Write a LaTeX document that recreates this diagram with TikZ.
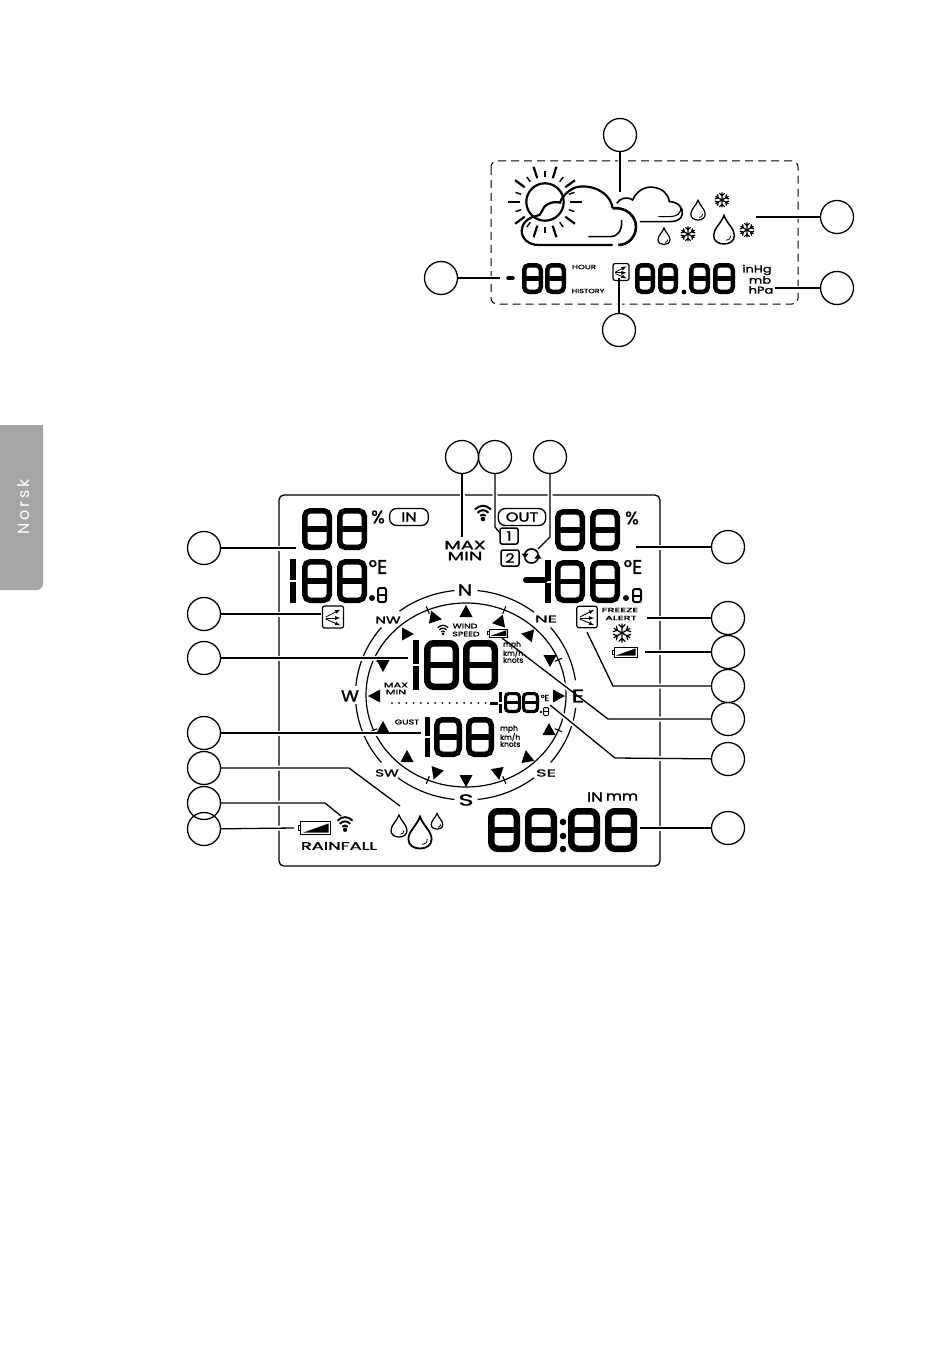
\documentclass[tikz,border=0pt]{standalone}
\usepackage{fontspec}
\newfontfamily\lcdfont[FakeBold=1.4]{Poppins}
\newfontfamily\tabfont{Poppins}
\usetikzlibrary{calc}
\def\lcdeight[#1](#2,#3)(#4,#5){\draw[line width=#1pt,rounded corners=#1pt] ({#2+#1/2},{#3+#1/2}) rectangle ({#4-#1/2},{#5-#1/2});
	\draw[line width=#1pt] (#2,{(#3+#5)/2}) -- (#4,{(#3+#5)/2});}
\def\lcdone[#1](#2,#3)(#4){\draw[line width=#1pt] (#2,#3) -- (#2,{(#3+#4)/2-1}) (#2,{(#3+#4)/2+1}) -- (#2,#4);}
\def\windmark(#1,#2)(#3){\fill[shift={(#1,#2)},rotate=#3] (7,0) -- (-5,6.5) -- (-5,-6.5) -- cycle;}
\def\raindrop[#1](#2,#3)(#4){\begin{scope}[shift={(#2,#3)},scale=#4]
	\draw[line width=#1pt] (0,-12) .. controls (2,-6) and (8,-2) .. (8,3.5) .. controls (8,8) and (4,10) .. (0,10) .. controls (-4,10) and (-8,8) .. (-8,3.5) .. controls (-8,-2) and (-2,-6) .. (0,-12) -- cycle;
	\draw[line width=0.8pt] (5,3.5) .. controls (5,6) and (3.5,7) .. (1.5,7.2);
	\end{scope}}
\def\flake(#1,#2)(#3){\foreach \a in {30,90,...,330}{\draw[shift={(#1,#2)},rotate=\a,line width=1.2pt] (0,0) -- (#3,0) ({.55*#3},0) -- ({.9*#3},{.35*#3}) ({.55*#3},0) -- ({.9*#3},{-.35*#3});}}
\def\wifisign(#1,#2)(#3){\begin{scope}[shift={(#1,#2)},scale=#3,line width=#3*2pt]
	\draw (-8,-3.5) .. controls (-3,-8.5) and (3,-8.5) .. (8,-3.5);
	\draw (-5.5,-0.2) .. controls (-2,-3.7) and (2,-3.7) .. (5.5,-0.2);
	\draw (-2.8,2.8) .. controls (-1,1.2) and (1,1.2) .. (2.8,2.8);
	\fill (0,6) circle (2.3);
	\end{scope}}
\def\battery(#1,#2)(#3){\begin{scope}[shift={(#1,#2)},scale=#3]
	\draw[line width=1pt] (-11,-5) rectangle (12,5);
	\draw[line width=1pt] (-13,-2) rectangle (-11,2);
	\fill (-9,3.5) -- (10.5,3.5) -- (10.5,-3.5) -- cycle;
	\end{scope}}
\def\trendbox[#1](#2,#3){\begin{scope}[shift={(#2,#3)},scale=#1]
	\draw[line width=1.2pt,rounded corners=2pt] (-10,-10.5) rectangle (10,10.5);
	\draw[line width=0.8pt,-latex] (-7,0) -- (7,-7);
	\draw[line width=0.8pt,-latex] (-7,1) -- (7,1);
	\draw[line width=0.8pt,-latex] (-7,2) -- (7,8);
	\end{scope}}

\tikzset{
	callout/.style={circle,draw,line width=1.3pt,minimum size=33pt,inner sep=0pt,outer sep=0pt},
	leader/.style={line width=1.3pt,preaction={draw=white,line width=5pt,shorten <=2pt}},
	lcdtxt/.style n args={2}{inner sep=0pt,font=\lcdfont\fontsize{#1}{#1}\selectfont,xscale=#2},
	pill/.style={draw,line width=1.3pt,rounded corners=7pt,inner sep=0pt}
}

\begin{document}
\begin{tikzpicture}[x=1pt,y=-1pt]
	\useasboundingbox (0,0) rectangle (950,1348);
	
	%%%%% SIDE TAB %%%%%
	\fill[black!35] (0,590) -- (0,425) -- (43,425) [rounded corners=6pt] -- (43,590) [sharp corners] -- (0,590) -- cycle;
	\node[inner sep=0pt,rotate=90,text=white,font=\tabfont\fontsize{16}{16}\selectfont] (tabname) at (24,507) {N\,o\,r\,s\,k};
	
	%%%%% PANELS %%%%%
	\draw[line width=1pt,dash pattern=on 8pt off 5pt,rounded corners=6pt] (491,161) rectangle (798,304);
	\draw[line width=1.3pt,rounded corners=5pt] (279,495) rectangle (660,866);
	
	%%%%% COMPASS RINGS %%%%%
	\draw[line width=1.2pt] (466,695) ellipse [x radius=100,y radius=92];
	\foreach \p/\q in {96/127,140/175,185/220,232/264,276/308,320/353,8/40,52/84}{
		\draw[line width=1.2pt] plot[domain=\p:\q,samples=24] ({466+110.5*cos(\x)},{695-105*sin(\x)});
	}
	\foreach \a in {22.5,67.5,...,337.5}{
		\draw[line width=1.1pt] ({466+96*cos(\a)},{695-88*sin(\a)}) -- ({466+104*cos(\a)},{695-96*sin(\a)});
	}
	
	%%%%% CIRCLES %%%%%
	\foreach \name/\px/\py in {ctop/620/135,cwet/837/217,cpress/837/288,chour/441/278,ctrend/619/330,
		chumin/204/548,ctrin/204/614,cwind/204/658,cgust/204/733,crain/204/768,csig/204/803,cbatl/204/829,
		cmax/462/457,cone/495/457,cswap/550/457,
		chumout/728/547,cfreeze/728/618,cbatr/728/652,ctrout/728/686,cbatw/728/719,ctmp/728/759,cclock/728/828}{
		\node[callout] (\name) at (\px,\py) {};
	}
	
	%%%%% LEADERS %%%%%
	\coordinate (ectop) at (620,192);
	\coordinate (ecwet) at (756,217);
	\coordinate (ecpress) at (775,288);
	\coordinate (echour) at (500,278);
	\coordinate (ectrend) at (619,278);
	\coordinate (echumin) at (296,548);
	\coordinate (ectrin) at (321,614);
	\coordinate (ecwind) at (408,658);
	\coordinate (ecgust) at (421,733);
	\coordinate (bcrain) at (349,768);
	\coordinate (ecrain) at (400,806);
	\coordinate (bcsig) at (325,803);
	\coordinate (ecsig) at (341,816);
	\coordinate (ecbatl) at (294,828);
	\coordinate (ecmax) at (462,537);
	\coordinate (bcone) at (495,527);
	\coordinate (econe) at (500,533);
	\coordinate (bcswap) at (550,537);
	\coordinate (ecswap) at (538,549);
	\coordinate (echumout) at (636,547);
	\coordinate (ecfreeze) at (647,618);
	\coordinate (ecbatr) at (645,652);
	\coordinate (bctrout) at (613,686);
	\coordinate (ectrout) at (587,632);
	\coordinate (bcbatw) at (608,719);
	\coordinate (ecbatw) at (502,638);
	\coordinate (bctmp) at (615,758);
	\coordinate (ectmp) at (550,705);
	\coordinate (ecclock) at (640,828);
	
	\draw[leader] (ctop) -- (ectop);
	\draw[leader] (cwet) -- (ecwet);
	\draw[leader] (cpress) -- (ecpress);
	\draw[leader] (chour) -- (echour);
	\draw[leader] (ctrend) -- (ectrend);
	\draw[leader] (chumin) -- (echumin);
	\draw[leader] (ctrin) -- (ectrin);
	\draw[leader] (cwind) -- (ecwind);
	\draw[leader] (cgust) -- (ecgust);
	\draw[leader] (crain) -- (bcrain) -- (ecrain);
	\draw[leader] (csig) -- (bcsig) -- (ecsig);
	\draw[leader] (cbatl) -- (ecbatl);
	\draw[leader] (cmax) -- (ecmax);
	\draw[leader] (cone) -- (bcone) -- (econe);
	\draw[leader] (cswap) -- (bcswap) -- (ecswap);
	\draw[leader] (chumout) -- (echumout);
	\draw[leader] (cfreeze) -- (ecfreeze);
	\draw[leader] (cbatr) -- (ecbatr);
	\draw[leader] (ctrout) -- (bctrout) -- (ectrout);
	\draw[leader] (cbatw) -- (bcbatw) -- (ecbatw);
	\draw[leader] (ctmp) -- (bctmp) -- (ectmp);
	\draw[leader] (cclock) -- (ecclock);
	
	%%%%% WEATHER ICONS %%%%%
	\draw[line width=2.2pt] (545,202) circle (18.7);
	\foreach \a in {0,36,...,324}{
		\draw[line width=2.2pt] ({545+25*cos(\a)},{202-25*sin(\a)}) -- ({545+37*cos(\a)},{202-37*sin(\a)});
	}
	\foreach \a in {18,54,...,342}{
		\draw[line width=1.4pt] ({545+25*cos(\a)},{202-25*sin(\a)}) -- ({545+31*cos(\a)},{202-31*sin(\a)});
	}
	\begin{scope}[shift={(420,110)},x=0.3333pt,y=-0.3333pt]
		\draw[line width=2.2pt] (578,405) -- (355,405) .. controls (325,405) and (305,385) .. (305,362) .. controls (305,340) and (325,322) .. (350,318) .. controls (358,318) and (362,312) .. (365,305) .. controls (370,285) and (395,272) .. (420,278) .. controls (425,262) and (440,245) .. (460,235) .. controls (500,218) and (570,240) .. (578,295);
		\draw[line width=2.6pt] (578,295) .. controls (620,290) and (648,320) .. (648,350) .. controls (648,380) and (625,405) .. (595,405);
		\draw[line width=1.6pt] (505,380) -- (570,380) .. controls (595,380) and (607,360) .. (605,330);
		\draw[line width=1.6pt] (590,280) .. controls (600,265) and (620,258) .. (638,270) .. controls (650,240) and (680,228) .. (700,232) .. controls (725,235) and (745,250) .. (748,275) .. controls (775,275) and (790,295) .. (787,312) .. controls (785,328) and (770,335) .. (750,335) -- (660,335);
		\draw[line width=1.1pt] (715,320) -- (750,320) .. controls (770,320) and (785,310) .. (783,290);
	\end{scope}
	\raindrop[1.2](698,211)(0.9)
	\raindrop[1.2](664,237)(0.75)
	\raindrop[1.5](724,231)(1.3)
	\flake(722,200)(7.5)
	\flake(688,234)(7.5)
	\flake(747,230)(7.5)
	
	%%%%% TOP READOUT %%%%%
	\draw[line width=3.5pt,line cap=round] (508,278) -- (513,278);
	\lcdeight[4.5](522,263)(543,294)
	\lcdeight[4.5](545,263)(566,294)
	\lcdeight[4.5](635,263)(655,294)
	\lcdeight[4.5](658,263)(678,294)
	\fill (684,292) circle (2.4);
	\lcdeight[4.5](689,263)(710,294)
	\lcdeight[4.5](713,263)(735,294)
	\trendbox[0.8](621,272)
	\node[lcdtxt={6}{1.45}] (lhour) at (584,267) {HOUR};
	\node[lcdtxt={6}{1.35}] (lhistory) at (588,291) {HISTORY};
	\node[lcdtxt={10}{1.3}] (linhg) at (757,270) {inHg};
	\node[lcdtxt={10}{1.3}] (lmb) at (760,280) {mb};
	\node[lcdtxt={10}{1.3}] (lhpa) at (761,290) {hPa};
	
	%%%%% INDOOR / OUTDOOR %%%%%
	\lcdeight[5.5](302,508)(332,550)
	\lcdeight[5.5](337,508)(367,550)
	\lcdone[6](293,559)(603)
	\lcdeight[5.5](302,559)(332,603)
	\lcdeight[5.5](337,559)(367,603)
	\fill (372,598) circle (3);
	\lcdeight[2](377,587)(387,603)
	\node[lcdtxt={18}{1}] (lhumin) at (378,517) {\%};
	\node[lcdtxt={20}{1}] (ltempin) at (378,567) {°E};
	\node[pill,minimum width=31pt,minimum height=17pt,lcdtxt={13}{1.25}] (pillin) at (409,517) {IN};
	\trendbox[1.05](333,617)
	
	\lcdeight[5.5](555,509)(585,551)
	\lcdeight[5.5](590,509)(620,551)
	\draw[line width=6pt,line cap=round] (526,580) -- (545,580);
	\lcdone[6](548,560)(603)
	\lcdeight[5.5](555,560)(585,603)
	\lcdeight[5.5](590,560)(620,603)
	\fill (626,598) circle (3);
	\lcdeight[2](632,588)(642,603)
	\node[lcdtxt={18}{1}] (lhumout) at (632,518) {\%};
	\node[lcdtxt={20}{1}] (ltempout) at (633,567) {°E};
	\node[pill,minimum width=38pt,minimum height=17pt,lcdtxt={13}{1.25}] (pillout) at (522,517) {OUT};
	\wifisign(483,513)(1)
	\node[lcdtxt={12}{1.6}] (lmax) at (465,545) {MAX};
	\node[lcdtxt={12}{1.6}] (lmin) at (465,556) {MIN};
	\node[draw,line width=1.5pt,rounded corners=2pt,minimum width=15pt,minimum height=16pt,lcdtxt={13}{1.2}] (chone) at (509,536) {1};
	\node[draw,line width=1.5pt,rounded corners=2pt,minimum width=15pt,minimum height=16pt,lcdtxt={13}{1.2}] (chtwo) at (510,558) {2};
	\draw[line width=1.6pt] plot[domain=20:165,samples=16] ({531.5+7*cos(\x)},{556-7*sin(\x)});
	\draw[line width=1.6pt] plot[domain=200:345,samples=16] ({531.5+7*cos(\x)},{556-7*sin(\x)});
	\fill (521.5,553.5) -- (528.5,553.5) -- (525,558.5) -- cycle;
	\fill (534.5,558.5) -- (541.5,558.5) -- (538,553.5) -- cycle;
	\trendbox[1.02](587,617)
	\node[lcdtxt={6}{1.9}] (lfreeze) at (620,610) {FREEZE};
	\node[lcdtxt={6}{1.9}] (lalert) at (621,618) {ALERT};
	\flake(622,633)(9.5)
	\battery(625,652)(1)
	
	%%%%% COMPASS %%%%%
	\node[lcdtxt={16}{1.3}] (dirn) at (465,590) {N};
	\node[lcdtxt={10}{1.8}] (dirne) at (546,619) {NE};
	\node[lcdtxt={18}{1.4}] (dire) at (578,696) {E};
	\node[lcdtxt={10}{1.8}] (dirse) at (546,773) {SE};
	\node[lcdtxt={16}{1.6}] (dirs) at (466,800) {S};
	\node[lcdtxt={10}{1.5}] (dirsw) at (387,773) {SW};
	\node[lcdtxt={16}{1.15}] (dirw) at (350,696) {W};
	\node[lcdtxt={10}{1.5}] (dirnw) at (388,620) {NW};
	\windmark(466,612)(90)
	\windmark(499,622)(190)
	\windmark(528,635)(170)
	\windmark(550,660)(270)
	\windmark(558,696)(0)
	\windmark(549,730)(90)
	\windmark(527,757)(100)
	\windmark(498,773)(280)
	\windmark(466,780)(270)
	\windmark(436,773)(250)
	\windmark(407,757)(90)
	\windmark(383,728)(90)
	\windmark(375,696)(180)
	\windmark(383,665)(270)
	\windmark(407,634)(0)
	\windmark(435,618)(350)
	
	\wifisign(443,630)(0.65)
	\node[lcdtxt={6.5}{1.45}] (lwind) at (465,626) {WIND};
	\node[lcdtxt={6.5}{1.45}] (lspeed) at (466,634) {SPEED};
	\battery(498,633)(0.8)
	\lcdone[6](416,640)(690)
	\lcdeight[6.5](424,640)(459,690)
	\lcdeight[6.5](463,640)(498,690)
	\foreach \t/\u/\v in {mph/645/la,{km/h}/653/lb,knots/660/lc}{
		\node[lcdtxt={7.5}{1},anchor=west] (\v) at (503,\u) {\t};
	}
	\node[lcdtxt={7}{1.6}] (lsmax) at (396,685) {MAX};
	\node[lcdtxt={7}{1.6}] (lsmin) at (396,692) {MIN};
	\foreach \k in {0,...,13}{
		\fill ({392+7.2*\k},703) circle (1);
	}
	\draw[line width=3pt] (490,703) -- (498,703);
	\lcdone[3](500,692)(713)
	\lcdeight[3.2](504,692)(521,713)
	\lcdeight[3.2](522,692)(539,713)
	\node[lcdtxt={9}{1}] (ltempw) at (545,698) {°E};
	\fill (541,712) circle (1.3);
	\lcdeight[1](543,707)(549,716)
	\node[lcdtxt={7}{1.35}] (lgust) at (407,722) {GUST};
	\lcdone[5](427,717)(757)
	\lcdeight[5.5](434,717)(462,757)
	\lcdeight[5.5](466,717)(494,757)
	\foreach \t/\u/\v in {mph/729/ld,{km/h}/737/le,knots/744/lf}{
		\node[lcdtxt={7.5}{1},anchor=west] (\v) at (500,\u) {\t};
	}
	
	%%%%% RAIN AND CLOCK %%%%%
	\raindrop[1.3](399,827)(1)
	\raindrop[1.8](420,834)(1.45)
	\raindrop[1.2](437,822)(0.72)
	\wifisign(345,824)(0.95)
	\battery(315,828)(1.3)
	\node[lcdtxt={11}{1.62}] (lrainfall) at (339,846) {RAINFALL};
	\node[lcdtxt={13}{1.3}] (lunitin) at (595,797) {IN};
	\node[lcdtxt={13}{1.2}] (lunitmm) at (622,797) {mm};
	\lcdeight[6.5](488,808)(520,852)
	\lcdeight[6.5](525,808)(557,852)
	\lcdeight[6.5](568,808)(600,852)
	\lcdeight[6.5](605,808)(637,852)
	\foreach \u in {822,836,849}{
		\fill (563,\u) circle (3.3);
	}
\end{tikzpicture}
\end{document}
